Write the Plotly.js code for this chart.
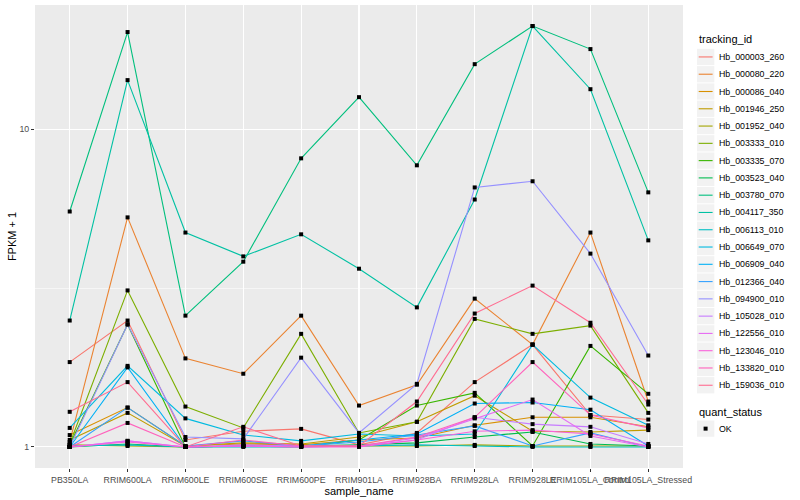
<!DOCTYPE html>
<html>
<head>
<meta charset="utf-8">
<script src="https://cdn.plot.ly/plotly-3.0.1.min.js"></script>
<style>html,body{margin:0;padding:0;background:#fff;}#chart{width:800px;height:500px;}</style>
</head>
<body>
<div id="chart"></div>
<script>
// ---- data (FPKM + 1) ----
const samples = ['PB350LA','RRIM600LA','RRIM600LE','RRIM600SE','RRIM600PE','RRIM901LA','RRIM928BA','RRIM928LA','RRIM928LE','RRIM105LA_Control','RRIM105LA_Stressed'];
const trackingIds = ['Hb_000003_260','Hb_000080_220','Hb_000086_040','Hb_001946_250','Hb_001952_040','Hb_003333_010','Hb_003335_070','Hb_003523_040','Hb_003780_070','Hb_004117_350','Hb_006113_010','Hb_006649_070','Hb_006909_040','Hb_012366_040','Hb_094900_010','Hb_105028_010','Hb_122556_010','Hb_123046_010','Hb_133820_010','Hb_159036_010'];
const trackColors = ['#F8766D','#EA8331','#D89000','#C09B00','#A3A500','#7CAE00','#39B600','#00BB4E','#00BF7D','#00C1A3','#00BFC4','#00BAE0','#00B0F6','#35A2FF','#9590FF','#C77CFF','#E76BF3','#FA62DB','#FF62BC','#FF6C91'];

const hb000003_260 = [1.85, 2.50, 1.052, 1.12, 1.14, 1.015, 1.107, 1.60, 2.10, 1.26, 1.22];
const hb000080_220 = [1.037, 5.28, 1.90, 1.70, 2.59, 1.35, 1.57, 2.93, 2.10, 4.73, 1.39];
const hb000086_040 = [1.09, 1.33, 1.007, 1.022, 1.015, 1.052, 1.067, 1.17, 1.24, 1.24, 1.157];
const hb001946_250 = [1.052, 1.28, 1.007, 1.03, 1.022, 1.075, 1.20, 1.45, 1.12, 1.115, 1.13];
const hb001952_040 = [1.015, 1.007, 1.0, 1.007, 1.007, 1.007, 1.007, 1.015, 1.007, 1.007, 1.007];
const hb003333_010 = [1.022, 3.11, 1.34, 1.148, 2.27, 1.107, 1.20, 2.53, 2.27, 2.41, 1.28];
const hb003335_070 = [1.015, 2.43, 1.0, 1.007, 1.0, 1.052, 1.35, 1.48, 1.007, 2.08, 1.47];
const hb003523_040 = [1.0, 1.022, 1.0, 1.007, 1.007, 1.015, 1.03, 1.075, 1.115, 1.022, 1.007];
const hb003780_070 = [5.51, 20.23, 2.59, 3.83, 8.10, 12.62, 7.70, 16.03, 21.13, 17.88, 6.33];
const hb004117_350 = [2.50, 14.28, 4.73, 3.98, 4.67, 3.64, 2.75, 6.01, 21.13, 13.37, 4.47];
const hb006113_010 = [1.007, 1.015, 1.0, 1.0, 1.0, 1.007, 1.015, 1.007, 1.0, 1.0, 1.0];
const hb006649_070 = [1.148, 1.80, 1.23, 1.091, 1.045, 1.099, 1.083, 1.099, 2.10, 1.43, 1.17];
const hb006909_040 = [1.0, 1.78, 1.0, 1.007, 1.007, 1.052, 1.099, 1.37, 1.38, 1.31, 1.007];
const hb012366_040 = [1.0, 1.33, 1.007, 1.045, 1.007, 1.037, 1.091, 1.165, 1.007, 1.107, 1.0];
const hb094900_010 = [1.0, 2.43, 1.075, 1.06, 1.91, 1.107, 1.58, 6.56, 6.86, 4.06, 1.94];
const hb105028_010 = [1.0, 1.045, 1.0, 1.015, 1.007, 1.007, 1.052, 1.24, 1.18, 1.157, 1.022];
const hb122556_010 = [1.0, 1.045, 1.0, 1.007, 1.0, 1.007, 1.067, 1.23, 1.41, 1.083, 1.0];
const hb123046_010 = [1.0, 1.037, 1.0, 1.007, 1.0, 1.0, 1.052, 1.12, 1.13, 1.099, 1.007];
const hb133820_010 = [1.0, 1.19, 1.0, 1.052, 1.007, 1.007, 1.075, 1.24, 1.85, 1.26, 1.148];
const hb159036_010 = [1.29, 1.60, 1.0, 1.157, 1.007, 1.007, 1.39, 2.63, 3.22, 2.46, 1.36];

const seriesValues = [hb000003_260, hb000080_220, hb000086_040, hb001946_250, hb001952_040,
  hb003333_010, hb003335_070, hb003523_040, hb003780_070, hb004117_350, hb006113_010,
  hb006649_070, hb006909_040, hb012366_040, hb094900_010, hb105028_010, hb122556_010,
  hb123046_010, hb133820_010, hb159036_010];
const quantStatus = ['OK'];
const yTickVals = [1, 10];
const yTickText = ['1', '10'];

// ---- traces ----
const FONT = '"Liberation Sans", Arial, Helvetica, sans-serif';
const traces = [];
seriesValues.forEach((vals, i) => {
  traces.push({type: 'scatter', mode: 'lines', x: samples, y: vals, name: trackingIds[i],
    line: {color: trackColors[i], width: 1.1}, hoverinfo: 'skip', showlegend: false});
});
const px = [], py = [];
seriesValues.forEach(vals => vals.forEach((v, j) => { px.push(samples[j]); py.push(v); }));
traces.push({type: 'scatter', mode: 'markers', x: px, y: py, name: quantStatus[0],
  marker: {symbol: 'square', size: 4, color: '#000000'}, hoverinfo: 'skip', showlegend: false});

// ---- y range like ggplot (5% expansion on log scale) ----
const all = [].concat(...seriesValues);
const lo = Math.log10(Math.min(...all)), hi = Math.log10(Math.max(...all));
const pad = 0.05 * (hi - lo);

// ---- geometry helpers for legend (pixels -> paper) ----
const W = 800, H = 500, ML = 35, MR = 117, MT = 5, MB = 32;
const PW = W - ML - MR, PH = H - MT - MB;
const fx = p => (p - ML) / PW;
const fy = p => (H - MB - p) / PH;

const shapes = [], annotations = [];
annotations.push({xref: 'paper', yref: 'paper', x: fx(697), y: fy(39), xanchor: 'left', yanchor: 'middle',
  text: 'tracking_id', showarrow: false, font: {family: FONT, size: 11, color: '#000'}});
const keyTop = 48.3, keyH = 17.28;
trackingIds.forEach((id, i) => {
  const top = keyTop + i * keyH, c = top + keyH / 2;
  shapes.push({type: 'rect', xref: 'paper', yref: 'paper', x0: fx(697), x1: fx(714.3), y0: fy(top + 0.5), y1: fy(top + keyH - 0.5),
    fillcolor: '#F2F2F2', line: {width: 0}, layer: 'above'});
  shapes.push({type: 'line', xref: 'paper', yref: 'paper', x0: fx(698.7), x1: fx(712.6), y0: fy(c), y1: fy(c),
    line: {color: trackColors[i], width: 1.1}, layer: 'above'});
  annotations.push({xref: 'paper', yref: 'paper', x: fx(716.5), y: fy(c), xanchor: 'left', yanchor: 'middle',
    text: id, showarrow: false, font: {family: FONT, size: 8.8, color: '#000'}});
});
annotations.push({xref: 'paper', yref: 'paper', x: fx(697), y: fy(411.5), xanchor: 'left', yanchor: 'middle',
  text: 'quant_status', showarrow: false, font: {family: FONT, size: 11, color: '#000'}});
{
  const top = 420, c = top + keyH / 2;
  shapes.push({type: 'rect', xref: 'paper', yref: 'paper', x0: fx(697), x1: fx(714.3), y0: fy(top + 0.5), y1: fy(top + keyH - 0.5),
    fillcolor: '#F2F2F2', line: {width: 0}, layer: 'above'});
  shapes.push({type: 'rect', xref: 'paper', yref: 'paper', x0: fx(703.6), x1: fx(707.6), y0: fy(c - 2), y1: fy(c + 2),
    fillcolor: '#000', line: {width: 0}, layer: 'above'});
  annotations.push({xref: 'paper', yref: 'paper', x: fx(716.5), y: fy(c), xanchor: 'left', yanchor: 'middle',
    text: quantStatus[0], showarrow: false, font: {family: FONT, size: 8.8, color: '#000'}});
}

const layout = {
  width: W, height: H,
  margin: {l: ML, r: MR, t: MT, b: MB, pad: 0},
  paper_bgcolor: '#FFFFFF', plot_bgcolor: '#EBEBEB',
  font: {family: FONT, size: 8.8, color: '#4D4D4D'},
  showlegend: false,
  xaxis: {type: 'category', categoryorder: 'array', categoryarray: samples, range: [-0.6, samples.length - 0.4],
    showgrid: true, gridcolor: '#FFFFFF', gridwidth: 1.07, zeroline: false, showline: false,
    ticks: 'outside', ticklen: 3, tickwidth: 1, tickcolor: '#333333', tickangle: 0,
    tickfont: {family: FONT, size: 8.8, color: '#4D4D4D'}, automargin: false,
    title: {text: 'sample_name', font: {family: FONT, size: 11, color: '#000'}, standoff: 0}},
  yaxis: {type: 'log', range: [lo - pad, hi + pad], tickmode: 'array', tickvals: yTickVals, ticktext: yTickText,
    showgrid: true, gridcolor: '#FFFFFF', gridwidth: 1.07, zeroline: false, showline: false,
    minor: {tickmode: 'array', tickvals: [Math.sqrt(10)], showgrid: true, gridcolor: '#FFFFFF', gridwidth: 0.53, ticks: ''},
    ticks: 'outside', ticklen: 3, tickwidth: 1, tickcolor: '#333333',
    tickfont: {family: FONT, size: 8.8, color: '#4D4D4D'}, automargin: false,
    title: {text: 'FPKM + 1', font: {family: FONT, size: 11, color: '#000'}, standoff: 0}},
  shapes: shapes, annotations: annotations
};

Plotly.newPlot('chart', traces, layout, {displayModeBar: false, staticPlot: true});
</script>
</body>
</html>
